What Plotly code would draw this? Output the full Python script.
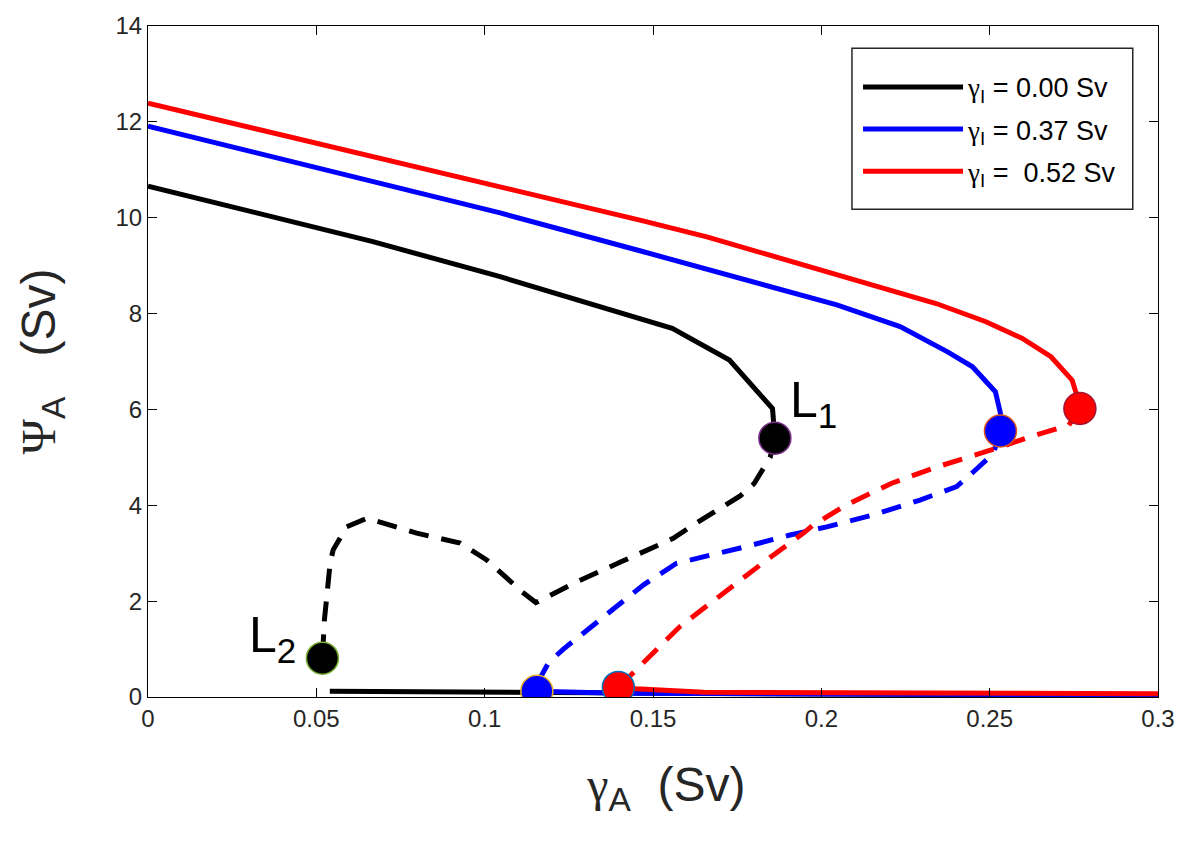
import plotly.graph_objects as go

# upper (stable) branches, solid
blk_up_x = [0.0, 0.0668, 0.1046, 0.1557, 0.1727, 0.1855, 0.1862]
blk_up_y = [10.66, 9.50, 8.77, 7.69, 7.03, 6.02, 5.40]
blu_up_x = [0.0, 0.05, 0.1046, 0.1461, 0.2046, 0.2234, 0.2375, 0.2449, 0.2517, 0.2532, 0.2529]
blu_up_y = [11.91, 11.05, 10.10, 9.31, 8.18, 7.73, 7.20, 6.89, 6.37, 5.92, 5.57]
red_up_x = [0.0, 0.1046, 0.1461, 0.166, 0.2, 0.2341, 0.2489, 0.2597, 0.2682, 0.2745, 0.2757, 0.2768]
red_up_y = [12.39, 10.65, 9.95, 9.60, 8.90, 8.21, 7.83, 7.48, 7.10, 6.61, 6.34, 6.02]

# unstable branches, dashed
blk_dash_x = [0.1862, 0.1848, 0.1800, 0.1760, 0.162, 0.156, 0.1405, 0.1276, 0.1197, 0.1152, 0.111,
              0.1055, 0.1006, 0.0927, 0.0798, 0.065, 0.059, 0.055, 0.0541, 0.0531, 0.0524, 0.0518]
blk_dash_y = [5.40, 5.00, 4.45, 4.20, 3.59, 3.31, 2.82, 2.41, 2.13, 1.97, 2.20,
              2.55, 2.86, 3.21, 3.42, 3.73, 3.55, 3.07, 2.80, 2.09, 1.61, 0.81]
blu_dash_x = [0.2532, 0.2511, 0.2452, 0.2402, 0.2293, 0.2154, 0.2016, 0.1907, 0.1778, 0.161,
              0.157, 0.1472, 0.1353, 0.1234, 0.119, 0.1165, 0.1155]
blu_dash_y = [5.55, 5.08, 4.70, 4.39, 4.11, 3.80, 3.55, 3.38, 3.14, 2.86,
              2.79, 2.34, 1.68, 1.00, 0.72, 0.40, 0.12]
red_dash_x = [0.2768, 0.2735, 0.262, 0.2521, 0.2343, 0.2209, 0.2075, 0.1976, 0.1947, 0.1838,
              0.158, 0.1501, 0.147, 0.1397]
red_dash_y = [6.02, 5.67, 5.43, 5.19, 4.80, 4.46, 4.01, 3.59, 3.42, 2.86,
              1.47, 0.91, 0.71, 0.20]

# lower branches, solid
blk_lo_x = [0.054, 0.1, 0.1155, 0.2, 0.3]
blk_lo_y = [0.12, 0.10, 0.09, 0.06, 0.04]
blu_lo_x = [0.1155, 0.14, 0.2, 0.3]
blu_lo_y = [0.12, 0.08, 0.06, 0.05]
red_lo_x = [0.1397, 0.145, 0.165, 0.2, 0.3]
red_lo_y = [0.20, 0.17, 0.10, 0.09, 0.07]

# fold points
fold_x = [0.1862, 0.0518, 0.2532, 0.1155, 0.2768, 0.1397]
fold_y = [5.40, 0.81, 5.55, 0.12, 6.02, 0.20]
fold_fill = ["black", "black", "#0000ff", "#0000ff", "#ff0000", "#ff0000"]
fold_edge = ["#7e2f8e", "#77ac30", "#d95319", "#edb120", "#a2142f", "#0072bd"]

SERIF = "'Liberation Serif', 'DejaVu Serif', serif"
GAM = f"<span style=\"font-family:{SERIF}\">γ</span>"
PSI = f"<span style=\"font-family:{SERIF}\">Ψ</span>"
legend_names = [GAM + "<sub>I</sub> = 0.00 Sv", GAM + "<sub>I</sub> = 0.37 Sv", GAM + "<sub>I</sub> =  0.52 Sv"]
x_ticks = [0, 0.05, 0.1, 0.15, 0.2, 0.25, 0.3]
x_tick_text = ["0", "0.05", "0.1", "0.15", "0.2", "0.25", "0.3"]
y_ticks = [0, 2, 4, 6, 8, 10, 12, 14]

FONT = "Liberation Sans, Arial, Helvetica, sans-serif"
colors = ["black", "#0000ff", "#ff0000"]
ups = [(blk_up_x, blk_up_y), (blu_up_x, blu_up_y), (red_up_x, red_up_y)]
dashes = [(blk_dash_x, blk_dash_y), (blu_dash_x, blu_dash_y), (red_dash_x, red_dash_y)]
lows = [(blk_lo_x, blk_lo_y), (blu_lo_x, blu_lo_y), (red_lo_x, red_lo_y)]

fig = go.Figure()
for i in range(3):
    fig.add_trace(go.Scatter(x=lows[i][0], y=lows[i][1], mode="lines", showlegend=False,
                             line=dict(color=colors[i], width=5)))
for i in range(3):
    fig.add_trace(go.Scatter(x=dashes[i][0], y=dashes[i][1], mode="lines", showlegend=False,
                             line=dict(color=colors[i], width=5, dash="20px,13px")))
for i in range(3):
    fig.add_trace(go.Scatter(x=ups[i][0], y=ups[i][1], mode="lines", name=legend_names[i],
                             legendgroup=f"g{i}",
                             line=dict(color=colors[i], width=5)))
fig.add_trace(go.Scatter(x=fold_x, y=fold_y, mode="markers", showlegend=False,
                         marker=dict(size=32, color=fold_fill,
                                     line=dict(color=fold_edge, width=1.5))))

fig.add_annotation(x=0.1900, y=6.12, text="L<sub>1</sub>", showarrow=False,
                   xanchor="left", yanchor="middle", font=dict(size=50, color="black", family=FONT))
fig.add_annotation(x=0.0295, y=1.22, text="L<sub>2</sub>", showarrow=False,
                   xanchor="left", yanchor="middle", font=dict(size=50, color="black", family=FONT))

# legend frame
fig.add_shape(type="rect", xref="paper", yref="paper", x0=0.697, x1=0.975, y0=0.727, y1=0.967,
              line=dict(color="#262626", width=1.5), fillcolor="white", layer="below")

axis_common = dict(showgrid=False, zeroline=False, showline=True, linecolor="black", linewidth=1.2,
                   mirror="ticks", ticks="inside", ticklen=9, tickcolor="black", tickwidth=1.2,
                   automargin=False,
                   tickfont=dict(size=24, color="#262626", family=FONT))
fig.update_xaxes(range=[0, 0.3], tickvals=x_ticks, ticktext=x_tick_text,
                 title=dict(text="&nbsp;&nbsp;" + GAM + "<sub>A</sub>  (Sv)",
                            font=dict(size=48, color="#262626", family=FONT), standoff=36),
                 **axis_common)
fig.update_yaxes(range=[0, 14], tickvals=y_ticks,
                 title=dict(text=PSI + "<sub>A</sub>   (Sv)",
                            font=dict(size=48, color="#262626", family=FONT), standoff=44),
                 **axis_common)

# page body adds an 8px offset, so margins are shifted to keep the plot box in place
fig.update_layout(
    width=1200, height=841,
    plot_bgcolor="white", paper_bgcolor="white",
    margin=dict(l=140, r=50, t=18, b=152),
    legend=dict(x=0.703, y=0.945, xanchor="left", yanchor="top",
                borderwidth=0, bgcolor="rgba(0,0,0,0)",
                font=dict(size=27, color="black", family=FONT),
                itemwidth=100, tracegroupgap=4, traceorder="grouped"),
)

fig.write_html("out.html")
